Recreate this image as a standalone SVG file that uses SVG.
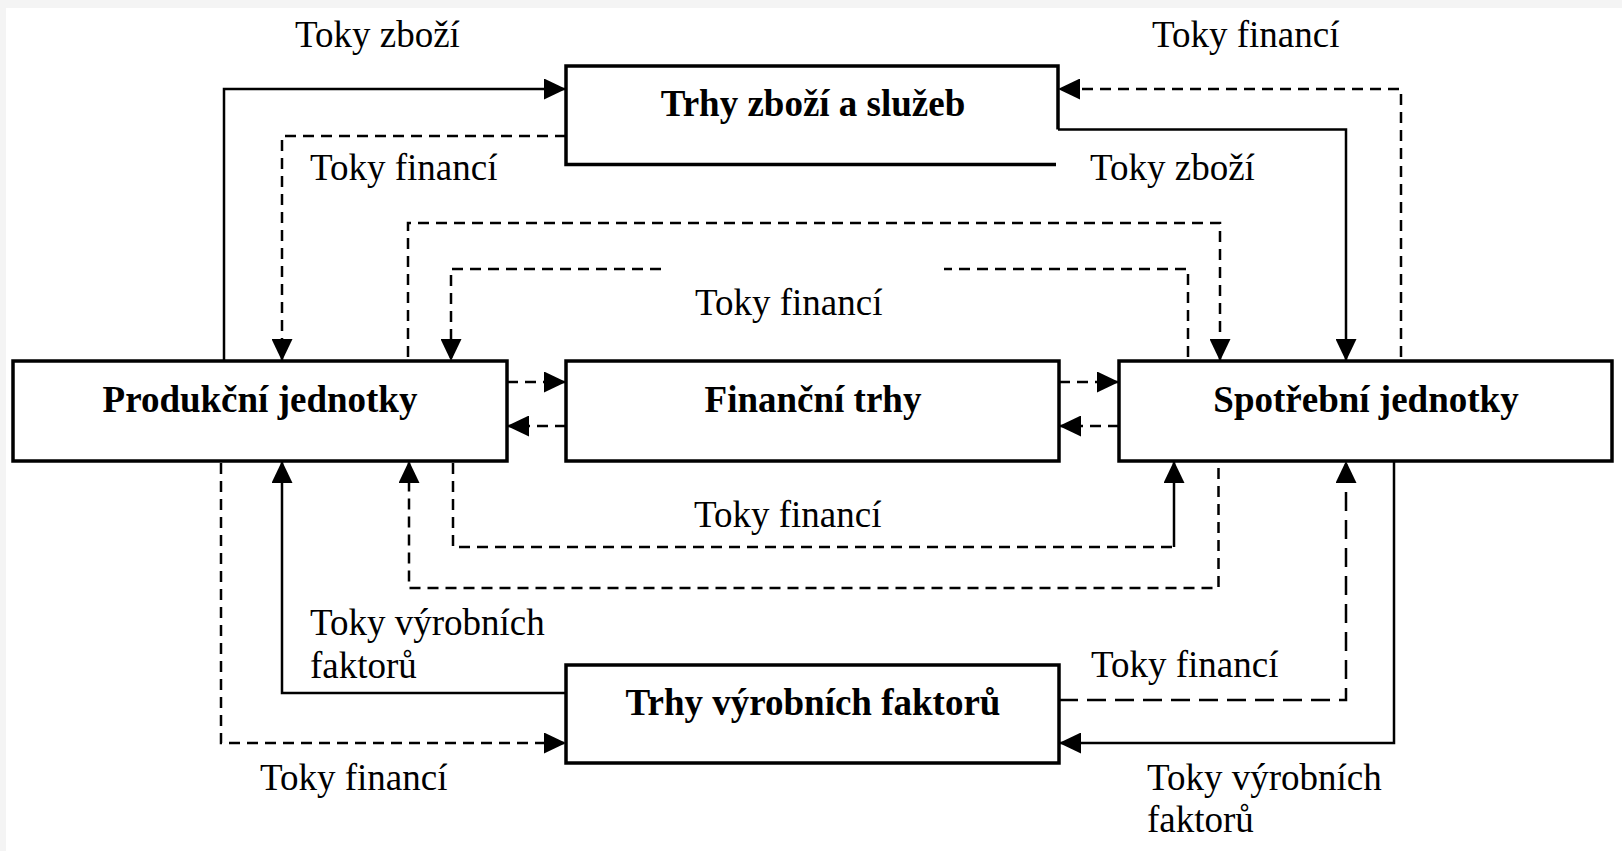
<svg xmlns="http://www.w3.org/2000/svg" width="1622" height="851" viewBox="0 0 1622 851">
<style>
.box{fill:#fff;stroke:#000;stroke-width:3.5}
.lbl{font-family:"Liberation Serif","Times New Roman",serif;font-size:37px;font-weight:bold;text-anchor:middle;fill:#000}
.t{font-family:"Liberation Serif","Times New Roman",serif;font-size:37px;fill:#000}
.s{fill:none;stroke:#000;stroke-width:2.5}
.d{fill:none;stroke:#000;stroke-width:2.5;stroke-dasharray:11 7}
.dl{fill:none;stroke:#000;stroke-width:2.5;stroke-dasharray:19 9}
</style>
<defs>
<marker id="ah" markerUnits="userSpaceOnUse" markerWidth="22" markerHeight="21" refX="22" refY="10.5" orient="auto">
<path d="M0,0 L22,10.5 L0,21 z" fill="#000"/>
</marker>
</defs>
<rect x="0" y="0" width="1622" height="851" fill="#f4f4f4"/>
<rect x="6" y="8" width="1616" height="843" fill="#fff"/>

<g id="connectors">
<path class="s" d="M224,361 V89 H566" marker-end="url(#ah)"/>
<path class="d" d="M566,136 H282 V361" marker-end="url(#ah)"/>
<path class="d" d="M408,357 V223 H1220 V361" marker-end="url(#ah)"/>
<path class="d" d="M1188,357 V269 H944"/>
<path class="d" d="M661,269 H451 V361" marker-end="url(#ah)"/>
<path class="s" d="M1058,129.5 H1346 V361" marker-end="url(#ah)"/>
<path class="d" d="M1401,357 V89 H1058" marker-end="url(#ah)"/>
<path class="d" d="M507,382 H566" marker-end="url(#ah)"/>
<path class="d" d="M566,426 H507" marker-end="url(#ah)"/>
<path class="d" d="M1059,382 H1119" marker-end="url(#ah)"/>
<path class="d" d="M1119,426 H1059" marker-end="url(#ah)"/>
<path class="d" d="M453,463 V547 H1174"/>
<path class="s" d="M1174,547 V461" marker-end="url(#ah)"/>
<path class="d" d="M1218.5,468 V588 H409 V461" marker-end="url(#ah)"/>
<path class="s" d="M566,693 H282 V461" marker-end="url(#ah)"/>
<path class="d" d="M221,463 V743 H566" marker-end="url(#ah)"/>
<path class="dl" d="M1059,700 H1346 V461" marker-end="url(#ah)"/>
<path class="s" d="M1394,461 V743 H1059" marker-end="url(#ah)"/>
</g>

<g id="trhy-zbozi">
<path class="box" d="M1058,129.5 V66 H566 V164.5 H1056"/>
<text class="lbl" x="813" y="116">Trhy zboží a služeb</text>
</g>
<g id="produkcni">
<rect class="box" x="13" y="361" width="494" height="100"/>
<text class="lbl" x="260" y="412">Produkční jednotky</text>
</g>
<g id="financni">
<rect class="box" x="566" y="361" width="493" height="100"/>
<text class="lbl" x="813" y="412">Finanční trhy</text>
</g>
<g id="spotrebni">
<rect class="box" x="1119" y="361" width="493" height="100"/>
<text class="lbl" x="1366" y="412">Spotřební jednotky</text>
</g>
<g id="trhy-vyrobnich">
<rect class="box" x="566" y="665" width="493" height="98"/>
<text class="lbl" x="813" y="715">Trhy výrobních faktorů</text>
</g>

<g id="labels">
<text class="t" x="295" y="47">Toky zboží</text>
<text class="t" x="1152" y="47">Toky financí</text>
<text class="t" x="310" y="180">Toky financí</text>
<text class="t" x="1090" y="180">Toky zboží</text>
<text class="t" x="695" y="315">Toky financí</text>
<text class="t" x="694" y="527">Toky financí</text>
<text class="t" x="310" y="635">Toky výrobních</text>
<text class="t" x="310" y="678">faktorů</text>
<text class="t" x="1091" y="677">Toky financí</text>
<text class="t" x="260" y="790">Toky financí</text>
<text class="t" x="1147" y="790">Toky výrobních</text>
<text class="t" x="1147" y="832">faktorů</text>
</g>
</svg>
